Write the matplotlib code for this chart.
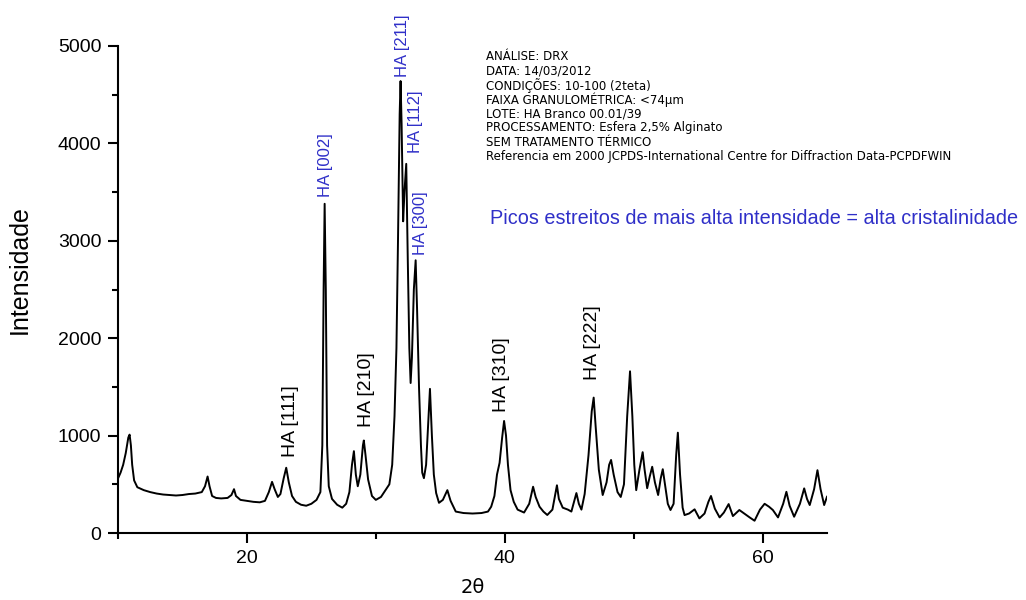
import matplotlib
matplotlib.use("Agg")
import matplotlib.pyplot as plt
from matplotlib.ticker import MultipleLocator

plt.rcParams['font.family'] = ['Liberation Sans', 'DejaVu Sans']

# Diffractogram: (2theta, intensity)
two_theta = [10.0, 10.2, 10.4, 10.6, 10.8, 10.9, 11.0, 11.1, 11.25, 11.5, 12.0, 12.5, 13.0, 13.5, 14.0,
             14.5, 15.0, 15.5, 16.0, 16.5, 16.75, 16.95, 17.1, 17.3, 17.6, 18.0, 18.5, 18.8, 19.0, 19.15,
             19.5, 20.0, 20.5, 21.0, 21.4, 21.7, 21.95, 22.15, 22.4, 22.6, 22.85, 23.05, 23.25, 23.5, 23.8,
             24.2, 24.6, 25.0, 25.4, 25.7, 25.85, 25.95, 26.03, 26.12, 26.22, 26.35, 26.6, 27.0, 27.4, 27.7,
             27.95, 28.15, 28.3, 28.45, 28.6, 28.8, 29.0, 29.07, 29.2, 29.4, 29.7, 30.0, 30.4, 30.8, 31.05,
             31.27, 31.45, 31.6, 31.72, 31.85, 31.92, 32.0, 32.12, 32.22, 32.36, 32.48, 32.6, 32.7, 32.8, 32.95,
             33.09, 33.2, 33.35, 33.5, 33.6, 33.73, 33.9, 34.05, 34.2, 34.35, 34.5, 34.68, 34.9, 35.2, 35.55,
             35.8, 36.2, 36.8, 37.5, 38.2, 38.7, 38.95, 39.2, 39.4, 39.6, 39.8, 39.95, 40.1, 40.25, 40.45,
             40.7, 41.0, 41.5, 41.9, 42.2, 42.4, 42.7, 43.0, 43.3, 43.7, 43.9, 44.05, 44.2, 44.5, 44.9,
             45.17, 45.4, 45.56, 45.75, 45.95, 46.2, 46.5, 46.75, 46.9, 47.05, 47.3, 47.6, 47.9, 48.1, 48.25,
             48.45, 48.75, 49.0, 49.25, 49.5, 49.72, 49.9, 50.05, 50.2, 50.45, 50.7, 50.85, 51.05, 51.25, 51.44,
             51.65, 51.9, 52.1, 52.26, 52.45, 52.65, 52.86, 53.1, 53.3, 53.43, 53.6, 53.8, 53.95, 54.3, 54.73,
             55.1, 55.5, 55.8, 56.0, 56.3, 56.67, 57.0, 57.37, 57.7, 58.2, 58.74, 59.0, 59.38, 59.8, 60.16,
             60.5, 60.8, 61.2, 61.6, 61.85, 62.1, 62.45, 62.9, 63.23, 63.45, 63.66, 64.0, 64.26, 64.5, 64.78,
             65.0]
intensity = [560, 620, 700, 820, 980, 1010, 900, 700, 540, 470, 440, 420, 405, 395, 390,
             385, 390, 400, 405, 420, 480, 580, 480, 380, 360, 355, 360, 390, 450, 380,
             340, 330, 320, 315, 330, 420, 525, 450, 370, 400, 560, 670, 520, 380, 320,
             290, 280, 300, 340, 420, 900, 2500, 3380, 2500, 900, 480, 350, 290, 260, 300,
             420, 700, 840, 600, 480, 600, 900, 950, 800, 550, 380, 340, 370, 450, 500,
             700, 1200, 1900, 3000, 4300, 4640, 4200, 3200, 3500, 3790, 2800, 1900, 1540, 1800, 2500,
             2800, 2300, 1500, 900, 620, 563, 700, 1100, 1480, 1000, 600, 410, 310, 340, 440,
             330, 220, 205, 200, 205, 220, 270, 380, 600, 720, 980, 1150, 1000, 700, 440,
             320, 240, 210, 300, 475, 370, 270, 220, 185, 240, 380, 490, 350, 260, 240,
             220, 330, 410, 300, 240, 400, 800, 1250, 1390, 1100, 650, 390, 520, 700, 750,
             600, 420, 370, 500, 1200, 1660, 1200, 700, 440, 650, 830, 650, 460, 580, 680,
             520, 390, 560, 655, 480, 300, 236, 300, 800, 1030, 600, 260, 184, 200, 243,
             150, 200, 320, 380, 250, 160, 210, 297, 174, 236, 184, 160, 126, 240, 300,
             270, 236, 160, 300, 423, 280, 167, 300, 458, 350, 287, 450, 645, 450, 287,
             372]

# Peak labels: (text, 2theta, intensity at label base)
black_labels = ["HA [111]", "HA [210]", "HA [310]", "HA [222]"]
black_x = [23.37, 29.28, 39.77, 46.84]
black_y = [780, 1088, 1242, 1571]
blue_labels = ["HA [002]", "HA [211]", "HA [112]", "HA [300]"]
blue_x = [26.09, 32.05, 33.09, 33.47]
blue_y = [3450, 4682, 3901, 2854]

info_lines = ["ANÁLISE: DRX",
              "DATA: 14/03/2012",
              "CONDIÇÕES: 10-100 (2teta)",
              "FAIXA GRANULOMÉTRICA: <74µm",
              "LOTE: HA Branco 00.01/39",
              "PROCESSAMENTO: Esfera 2,5% Alginato",
              "SEM TRATAMENTO TÉRMICO",
              "Referencia em 2000 JCPDS-International Centre for Diffraction Data-PCPDFWIN"]
note = "Picos estreitos de mais alta intensidade = alta cristalinidade"

BLUE = '#2f2fc8'

fig = plt.figure(figsize=(10.26, 6.0), dpi=100)
ax = fig.add_axes([118/1026, 1-533/600, (827-118)/1026, (533-46)/600])
ax.plot(two_theta, intensity, color='black', lw=1.4)
ax.set_xlim(10, 65)
ax.set_ylim(0, 5000)
ax.xaxis.set_major_locator(MultipleLocator(20))
ax.xaxis.set_minor_locator(MultipleLocator(10))
ax.yaxis.set_major_locator(MultipleLocator(1000))
ax.yaxis.set_minor_locator(MultipleLocator(500))
for s in ['top', 'right']:
    ax.spines[s].set_visible(False)
for s in ['left', 'bottom']:
    ax.spines[s].set_linewidth(1.5)
ax.tick_params(which='major', direction='out', length=7, width=1.5, labelsize=14, pad=5)
ax.tick_params(which='minor', direction='out', length=4, width=1.5)
ax.set_xlabel("2θ", fontsize=14, labelpad=8, family=['DejaVu Sans'])
ax.set_ylabel("Intensidade", fontsize=18, labelpad=10)
ax.yaxis.set_label_coords(-0.122, 0.54)

for t, x, y in zip(black_labels, black_x, black_y):
    ax.text(x, y, t, rotation=90, ha='center', va='bottom', fontsize=14, color='black')
for t, x, y in zip(blue_labels, blue_x, blue_y):
    ax.text(x, y, t, rotation=90, ha='center', va='bottom', fontsize=12, color=BLUE)

for i, line in enumerate(info_lines):
    fig.text(486/1026, 1-(57 + 14.2*i)/600, line, ha='left', va='center', fontsize=8.5,
             family=['DejaVu Sans'], color='black')
fig.text(490/1026, 1-218/600, note, ha='left', va='center', fontsize=14.3, color=BLUE)

fig.savefig("out.png", dpi=100)
